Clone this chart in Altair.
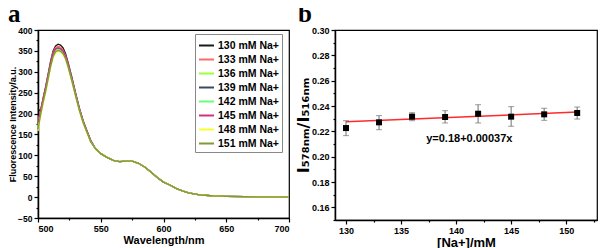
import altair as alt
import pandas as pd

# ---------------- Panel a data ----------------
series_names = ["130 mM Na+", "133 mM Na+", "136 mM Na+", "139 mM Na+",
                "142 mM Na+", "145 mM Na+", "148 mM Na+", "151 mM Na+"]
series_colors = ["#1a1a1a", "#ff6a6a", "#9cff3a", "#3a4a66",
                 "#66ff77", "#d0308a", "#f4ff30", "#7f9a3a"]

wl_head = [500, 502, 504, 506, 508, 510, 512, 514, 516, 518, 520, 522, 524, 527, 530, 533, 536, 539, 542]
wl_tail = [546, 550, 555, 560, 565, 570, 575, 580, 585, 590, 595, 600, 605, 610, 615, 620, 630, 640, 650, 665, 680, 700]

head_130 = [212, 205, 236, 263, 294, 325, 350, 362, 366, 364, 357, 343, 322, 287, 249, 213, 183, 159, 136]
head_133 = [180, 207, 234, 260, 291, 321, 346, 358, 361, 359, 352, 339, 319, 284, 247, 212, 181, 158, 135]
head_136 = [165, 200, 228, 254, 284, 313, 337, 349, 352, 350, 344, 332, 313, 279, 243, 208, 179, 156, 133]
head_139 = [172, 205, 232, 258, 288, 318, 342, 354, 357, 355, 349, 336, 316, 282, 245, 210, 180, 157, 134]
head_142 = [170, 203, 230, 256, 286, 315, 339, 351, 354, 352, 346, 334, 314, 280, 244, 209, 179, 156, 133]
head_145 = [178, 206, 233, 259, 289, 319, 343, 355, 357, 355, 349, 336, 316, 282, 245, 210, 180, 157, 134]
head_148 = [158, 192, 222, 249, 279, 309, 333, 345, 348, 347, 341, 329, 310, 277, 241, 206, 177, 154, 132]
head_151 = [162, 196, 226, 252, 282, 312, 336, 348, 351, 349, 343, 331, 312, 278, 242, 207, 178, 155, 132]
tail_all = [115, 104, 95, 88, 85, 86, 86, 81, 72, 60, 47, 36, 29, 21, 15, 10, 5, 3, 2, 1, 0.5, 0]

heads = [head_130, head_133, head_136, head_139, head_142, head_145, head_148, head_151]

rows = []
for name, head in zip(series_names, heads):
    for w, v in zip(wl_head + wl_tail, head + tail_all):
        rows.append({"wl": w, "val": v, "series": name})
df_a = pd.DataFrame(rows)

# ---------------- Panel b data ----------------
na_conc = [130, 133, 136, 139, 142, 145, 148, 151]
ratio = [0.2226, 0.2271, 0.2316, 0.2313, 0.2339, 0.2316, 0.2334, 0.2345]
err_hi = [0.2284, 0.2324, 0.2347, 0.2363, 0.2410, 0.2395, 0.2382, 0.2392]
err_lo = [0.2166, 0.2213, 0.2284, 0.2266, 0.2266, 0.2240, 0.2287, 0.2297]
fit_x = [130, 151]
fit_y = [0.2276, 0.2352]
equation = ["y=0.18+0.00037x"]
eq_pos = [141.2, 0.214]
panel_letters = ["a", "b"]

df_b = pd.DataFrame({"x": na_conc, "y": ratio, "hi": err_hi, "lo": err_lo})
df_fit = pd.DataFrame({"x": fit_x, "y": fit_y})
df_eq = pd.DataFrame({"x": [eq_pos[0]], "y": [eq_pos[1]], "t": equation})

FONT = "Liberation Sans"

def letter(txt, xoff):
    return alt.Chart(pd.DataFrame({"t": [txt]})).mark_text(
        font="Liberation Serif", fontWeight="bold", fontSize=25,
        align="left", baseline="alphabetic", color="black"
    ).encode(x=alt.value(xoff), y=alt.value(-8), text="t:N")

# ---------------- Panel a ----------------
xa_vals = list(range(500, 701, 25))
ya_vals = list(range(-50, 401, 25))

lines = alt.Chart(df_a).mark_line(strokeWidth=1.3).encode(
    x=alt.X("wl:Q", scale=alt.Scale(domain=[500, 700], nice=False, zero=False),
            axis=alt.Axis(values=xa_vals, title="Wavelength/nm",
                          labelExpr="datum.value % 50 === 0 ? datum.label : ''",
                          tickSize={"condition": {"test": "datum.value % 50 === 0", "value": 4}, "value": 2},
                          titleFontSize=11, titlePadding=1)),
    y=alt.Y("val:Q", scale=alt.Scale(domain=[-50, 400], nice=False, zero=False),
            axis=alt.Axis(values=ya_vals, title="Fluorescence Intensity/a.u.",
                          labelExpr="datum.value % 50 === 0 ? datum.label : ''",
                          tickSize={"condition": {"test": "datum.value % 50 === 0", "value": 4}, "value": 2},
                          titleFontSize=9, titlePadding=0, labelPadding=2, labelFontSize=8.5)),
    color=alt.Color("series:N", sort=series_names,
                    scale=alt.Scale(domain=series_names, range=series_colors),
                    legend=alt.Legend(title=None, orient="none", legendX=157, legendY=4,
                                      symbolType="stroke", symbolSize=225, symbolStrokeWidth=2,
                                      labelFont=FONT, labelFontWeight="bold", labelFontSize=10.5,
                                      labelColor="black", strokeColor="#888888", fillColor="white",
                                      padding=3, rowPadding=-1, labelOffset=3)),
    detail="series:N",
)

panel_a = alt.layer(lines, letter("a", -30)).properties(width=251, height=188)

# ---------------- Panel b ----------------
xb_vals = [130 + 2.5 * i for i in range(10)]
yb_vals = [0.15, 0.16, 0.17, 0.18, 0.19, 0.20, 0.21, 0.22, 0.23, 0.24, 0.25, 0.26, 0.27, 0.28, 0.29, 0.30]
YMAJOR = "floor(datum.value*100 + 0.5) % 2 === 0"

xb_scale = alt.Scale(domain=[129, 152.8], nice=False, zero=False)
yb_scale = alt.Scale(domain=[0.15, 0.30], nice=False, zero=False)

def xb_axis():
    return alt.Axis(values=xb_vals, title="[Na+]/mM",
                    labelExpr="datum.value % 5 === 0 ? datum.label : ''",
                    tickSize={"condition": {"test": "datum.value % 5 === 0", "value": 4}, "value": 2},
                    titleFontSize=13, titlePadding=1)

def yb_axis():
    return alt.Axis(values=yb_vals, title="I₅₇₈ₙₘ/I₅₁₆ₙₘ",
                    labelExpr=YMAJOR + " ? format(datum.value, '.2f') : ''",
                    tickSize={"condition": {"test": YMAJOR, "value": 4}, "value": 2},
                    titleFont="DejaVu Sans", titleFontSize=16,
                    titleX=-40, titleY=95, titleAngle=270, titleAlign="center", titleBaseline="top")

def X(f):
    return alt.X(f, type="quantitative", scale=xb_scale, axis=xb_axis())

def Y(f):
    return alt.Y(f, type="quantitative", scale=yb_scale, axis=yb_axis())

fit = alt.Chart(df_fit).mark_line(color="#ff2a2a", strokeWidth=1.5).encode(x=X("x"), y=Y("y"))
err = alt.Chart(df_b).mark_rule(color="#707070", strokeWidth=1).encode(x=X("x"), y=Y("hi"), y2="lo")
cap_hi = alt.Chart(df_b).mark_tick(color="#707070", orient="horizontal", size=6, thickness=1).encode(
    x=X("x"), y=Y("hi"))
cap_lo = alt.Chart(df_b).mark_tick(color="#707070", orient="horizontal", size=6, thickness=1).encode(
    x=X("x"), y=Y("lo"))
pts = alt.Chart(df_b).mark_square(color="black", size=36, opacity=1).encode(x=X("x"), y=Y("y"))
eq = alt.Chart(df_eq).mark_text(font=FONT, fontWeight="bold", fontSize=11, color="black").encode(
    x=X("x"), y=Y("y"), text="t:N")

panel_b = alt.layer(fit, err, cap_hi, cap_lo, pts, eq, letter("b", -37)).properties(width=262, height=190)

chart = alt.hconcat(panel_a, panel_b, spacing=1).properties(
    padding={"left": -1, "top": -7, "right": 0, "bottom": 0}
).configure_view(stroke="black", strokeWidth=1.2).configure_axis(
    grid=False, domainColor="black", domainWidth=1.5, tickColor="black", tickWidth=1.2,
    labelFont=FONT, labelFontWeight="bold", labelFontSize=9, labelColor="black", labelPadding=2,
    titleFont=FONT, titleFontWeight="bold", titleColor="black"
)

chart.save("out.html", embed_options={"renderer": "svg", "actions": False})
